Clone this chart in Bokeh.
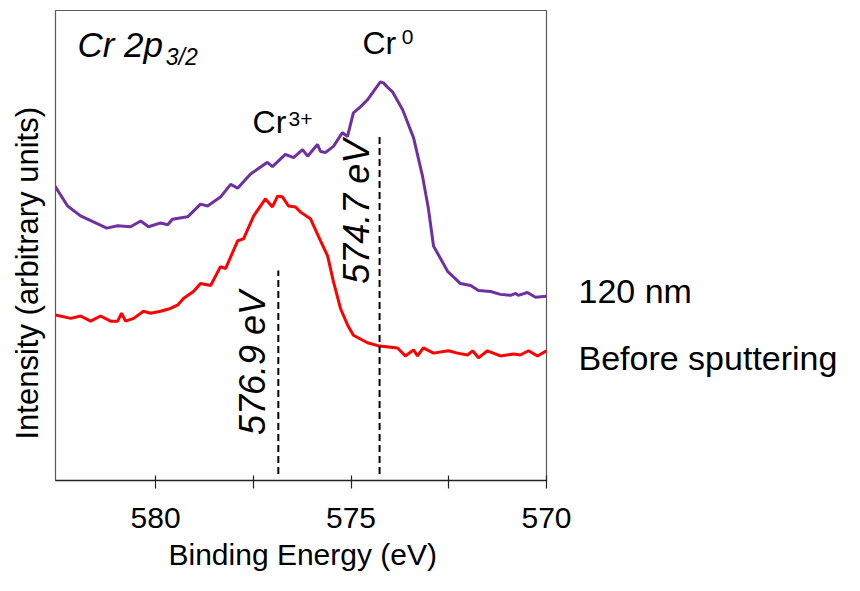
import math
from bokeh.plotting import figure
from bokeh.models import Range1d, FixedTicker, Label, Title, LinearAxis, CustomJSTickFormatter
from bokeh.embed import file_html
from bokeh.resources import INLINE

# ---- data ----
purple_E = [582.57, 582.25, 581.92, 581.48, 581.25, 580.97, 580.64, 580.38, 580.18, 579.87,
            579.69, 579.57, 579.18, 578.85, 578.67, 578.34, 578.08, 577.90, 577.57, 577.14,
            577.01, 576.68, 576.47, 576.24, 576.11, 575.86, 575.78, 575.65, 575.45, 575.22,
            575.09, 574.94, 574.76, 574.58, 574.25, 574.17, 574.07, 573.94, 573.68, 573.40,
            573.17, 573.02, 572.89, 572.53, 572.20, 571.94, 571.74, 571.43, 571.18, 570.92,
            570.79, 570.72, 570.49, 570.28, 570.00]
purple_I = [62.6, 58.4, 56.3, 54.6, 53.7, 54.2, 54.0, 55.2, 54.0, 54.8,
            54.4, 55.6, 56.1, 58.8, 58.4, 60.3, 63.0, 62.2, 65.2, 67.7,
            66.8, 69.4, 68.7, 70.4, 69.0, 71.5, 70.0, 69.8, 71.1, 74.0,
            73.2, 78.2, 79.5, 81.0, 84.8, 84.6, 83.7, 82.7, 78.9, 72.9,
            64.7, 57.8, 49.9, 44.5, 41.9, 41.5, 40.4, 40.2, 39.6, 39.4,
            39.8, 39.4, 40.0, 39.0, 39.2]

red_E = [582.56, 582.17, 581.92, 581.66, 581.41, 581.15, 580.97, 580.87, 580.77, 580.56,
         580.31, 580.13, 579.87, 579.62, 579.44, 579.28, 579.03, 578.85, 578.59, 578.34,
         578.21, 577.90, 577.75, 577.49, 577.19, 577.01, 576.88, 576.75, 576.60, 576.42,
         576.29, 576.04, 575.78, 575.60, 575.45, 575.27, 575.09, 574.94, 574.58, 574.27,
         573.81, 573.61, 573.40, 573.30, 573.15, 572.89, 572.51, 572.28, 572.02, 571.89,
         571.74, 571.51, 571.18, 570.84, 570.67, 570.46, 570.23, 570.00]
red_I = [35.2, 34.5, 35.0, 33.9, 35.0, 33.9, 33.9, 35.6, 33.9, 34.5,
         36.0, 35.6, 36.0, 36.6, 37.3, 38.8, 40.2, 41.9, 41.5, 45.5,
         45.1, 51.0, 51.4, 56.3, 59.9, 58.2, 60.5, 60.3, 58.4, 58.2,
         57.1, 55.7, 51.0, 47.8, 42.3, 36.6, 33.1, 30.9, 29.3, 28.6,
         28.2, 26.5, 27.8, 26.5, 28.2, 27.1, 27.6, 27.1, 26.7, 27.6,
         26.1, 27.6, 26.5, 26.9, 26.7, 27.6, 26.5, 27.6]

peak_E = [576.86, 574.27]
peak_top = [44.7, 73.2]
peak_bottom = [1.4, 1.4]
peak_labels = ["576.9 eV", "574.7 eV"]

major_ticks = [580, 575, 570]
minor_ticks = [577.5, 572.5]

series_names = ["120 nm", "Before sputtering"]
series_label_y = [40.3, 26.1]

FONT = "Liberation Sans"
PURPLE = "#7030A0"
RED = "#FF0000"

p = figure(width=844, height=575, output_backend="svg", toolbar_location=None,
           x_range=Range1d(582.56, 570.0), y_range=Range1d(0, 100),
           min_border_left=55, min_border_right=298, min_border_top=10, min_border_bottom=92)

p.background_fill_color = "white"
p.border_fill_color = "white"
p.outline_line_color = "#595959"
p.outline_line_width = 1.2
p.xgrid.visible = False
p.ygrid.visible = False

p.line(purple_E, purple_I, line_color=PURPLE, line_width=3)
p.line(red_E, red_I, line_color=RED, line_width=3)
p.segment(x0=peak_E, y0=peak_bottom, x1=peak_E, y1=peak_top,
          line_color="black", line_width=2, line_dash="7 4")

xa = p.xaxis[0]
xa.ticker = FixedTicker(ticks=major_ticks, minor_ticks=minor_ticks)
xa.axis_line_color = "#222222"
xa.axis_line_width = 1.5
xa.major_tick_in = 5
xa.major_tick_out = 8
xa.minor_tick_in = 5
xa.minor_tick_out = 8
xa.major_tick_line_color = "#222222"
xa.minor_tick_line_color = "#222222"
xa.major_tick_line_width = 1.2
xa.minor_tick_line_width = 1.2
xa.major_label_text_font = FONT
xa.major_label_text_font_size = "30px"
xa.major_label_text_color = "black"
xa.major_label_standoff = 19

p.yaxis.visible = False

# right-hand series names, placed through the y scale
ra = LinearAxis(ticker=FixedTicker(ticks=series_label_y),
                formatter=CustomJSTickFormatter(args=dict(vals=series_label_y, names=series_names),
                                                code="const i = vals.findIndex(v => Math.abs(v - tick) < 1e-6); return i >= 0 ? names[i] : '';"))
ra.axis_line_color = None
ra.major_tick_line_color = None
ra.minor_tick_line_color = None
ra.major_label_text_font = FONT
ra.major_label_text_font_size = "34px"
ra.major_label_text_color = "black"
ra.major_label_standoff = 26
p.add_layout(ra, "right")

# axis titles
p.add_layout(Title(text="Binding Energy (eV)", align="left", offset=113, standoff=10,
                   text_font=FONT, text_font_size="30px", text_font_style="normal",
                   text_color="black"), "below")
p.add_layout(Title(text="Intensity (arbitrary units)", align="left", offset=41, standoff=17,
                   vertical_align="top",
                   text_font=FONT, text_font_size="31px", text_font_style="normal",
                   text_color="black"), "left")

def lab(x, y, text, size, style="normal", angle=0, align="left"):
    p.add_layout(Label(x=x, y=y, text=text, text_font=FONT, text_font_size=size,
                       text_font_style=style, angle=angle, text_align=align,
                       text_baseline="middle", text_color="black"))

# panel title
lab(582.0, 92.8, "Cr 2p", "35px", style="italic")
lab(579.74, 90.1, "3/2", "23px", style="italic")

# species labels
lab(574.71, 93.1, "Cr", "32px")
lab(573.70, 94.3, "0", "21px")
lab(577.52, 76.2, "Cr", "32px")
lab(576.60, 77.0, "3+", "21px")

# peak position labels
lab(577.53, 25.0, peak_labels[0], "36px", style="italic", angle=math.pi / 2, align="center")
lab(574.85, 57.2, peak_labels[1], "36px", style="italic", angle=math.pi / 2, align="center")

open("out.html", "w").write(file_html(p, INLINE))
